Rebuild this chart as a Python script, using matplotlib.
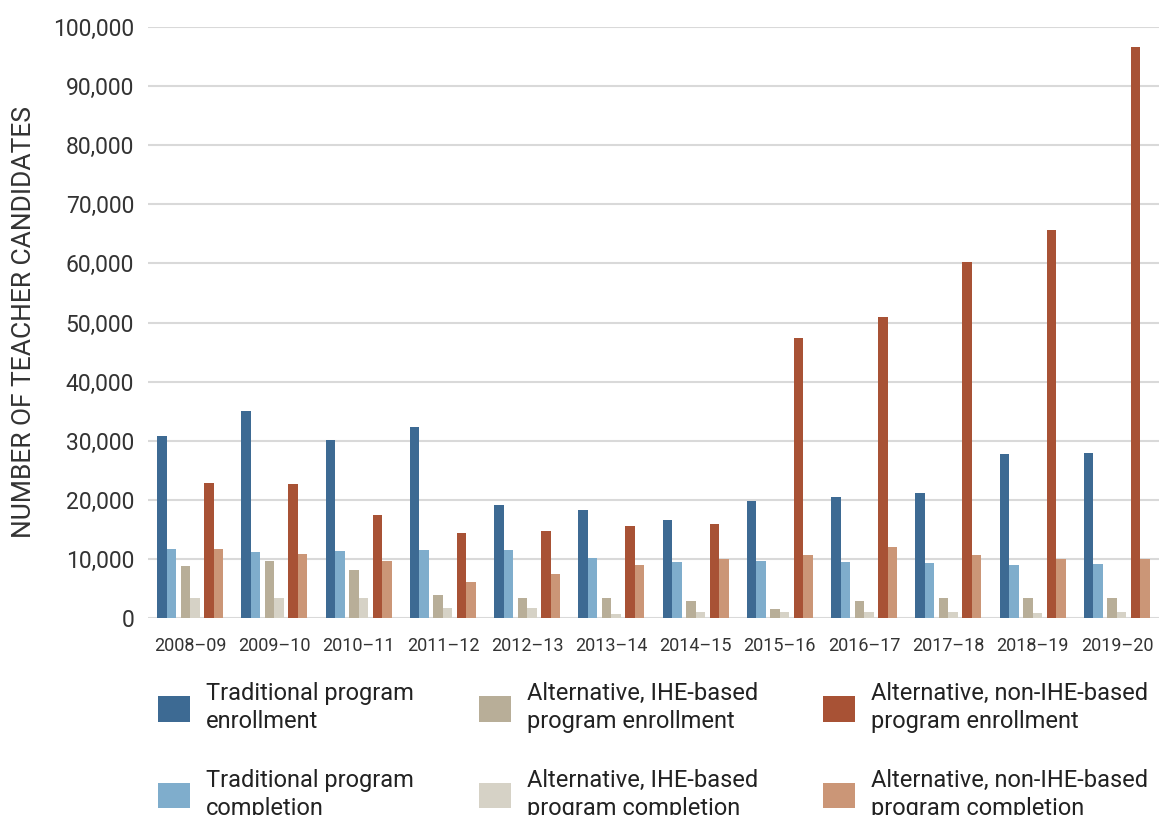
import matplotlib
matplotlib.use('Agg')
import matplotlib.pyplot as plt
import numpy as np

years = ['2008–09', '2009–10', '2010–11', '2011–12', '2012–13', '2013–14',
         '2014–15', '2015–16', '2016–17', '2017–18', '2018–19', '2019–20']
trad_enroll = [30800, 35100, 30200, 32400, 19200, 18300, 16500, 19800, 20500, 21200, 27800, 27900]
trad_complete = [11700, 11200, 11400, 11500, 11500, 10200, 9500, 9700, 9500, 9300, 9000, 9200]
ihe_enroll = [8850, 9700, 8200, 3900, 3400, 3400, 2800, 1600, 2900, 3400, 3300, 3400]
ihe_complete = [3400, 3300, 3300, 1700, 1700, 600, 1000, 1000, 1000, 1000, 800, 1000]
nonihe_enroll = [22900, 22600, 17500, 14400, 14800, 15600, 15900, 47400, 51000, 60300, 65700, 96600]
nonihe_complete = [11700, 10900, 9700, 6100, 7500, 9000, 10000, 10700, 12000, 10700, 9900, 10000]

labels = ['Traditional program\nenrollment', 'Traditional program\ncompletion',
          'Alternative, IHE-based\nprogram enrollment', 'Alternative, IHE-based\nprogram completion',
          'Alternative, non-IHE-based\nprogram enrollment', 'Alternative, non-IHE-based\nprogram completion']
colors = ['#3d6a93', '#7fadcc', '#b8ae98', '#d6d2c6', '#a85235', '#cb9677']
series = [trad_enroll, trad_complete, ihe_enroll, ihe_complete, nonihe_enroll, nonihe_complete]

plt.rcParams['font.family'] = ['Roboto', 'DejaVu Sans']

fig = plt.figure(figsize=(11.59, 8.15), dpi=100)
ax = fig.add_axes([148/1159, 197/815, 1 - 148/1159, (618-27)/815])

x = np.arange(len(years))
w = 0.113
pair_off = [-0.28, 0.0, 0.28]
handles = []
for i, (vals, c) in enumerate(zip(series, colors)):
    off = pair_off[i // 2] + (w / 2 if i % 2 else -w / 2)
    h = ax.bar(x + off, vals, width=w, color=c, zorder=3, label=labels[i])
    handles.append(h)

ax.set_xlim(-0.5, len(years) - 0.5)
ax.set_ylim(0, 100000)
ax.set_yticks(np.arange(0, 100001, 10000))
ax.set_yticklabels([f'{v:,}' for v in range(0, 100001, 10000)])
ax.set_xticks(x)
ax.set_xticklabels(years, fontsize=13, color='#333333')
ax.tick_params(axis='y', labelsize=16.5, colors='#333333', length=0, pad=10)
ax.tick_params(axis='x', length=0, pad=14)
ax.grid(axis='y', color='#d9d9d9', linewidth=1.5, zorder=0)
for s in ax.spines.values():
    s.set_visible(False)
ax.set_ylabel('NUMBER OF TEACHER CANDIDATES', fontsize=19, color='#333333', labelpad=12)

# legend sits partly below the figure edge, as in the source chart
leg = fig.legend(handles=handles, labels=labels, ncol=3, loc='upper left',
                 bbox_to_anchor=(158/1159, 1 - 682/815), frameon=False, fontsize=17,
                 handlelength=1.36, handleheight=1.3, handletextpad=0.68,
                 columnspacing=2.75, labelspacing=1.5, borderpad=0, borderaxespad=0)
for t in leg.get_texts():
    t.set_linespacing(1.3)
    t.set_color('#222222')

fig.savefig('out.png', dpi=100)
